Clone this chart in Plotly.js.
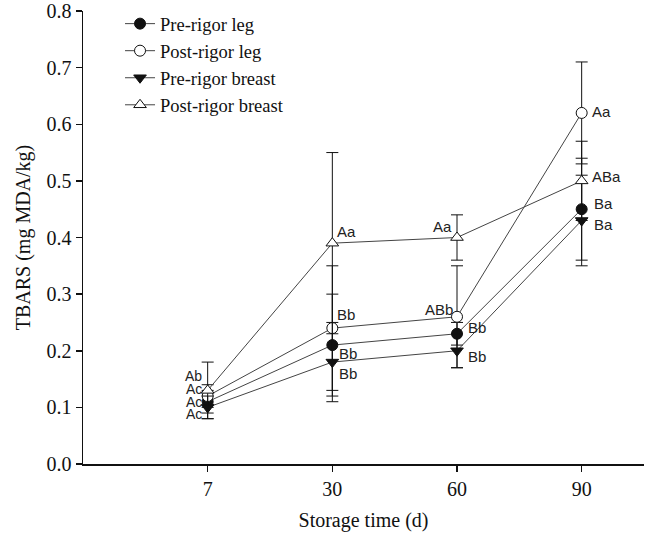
<!DOCTYPE html>
<html>
<head>
<meta charset="utf-8">
<script src="https://cdn.plot.ly/plotly-3.0.1.min.js"></script>
<style>html,body{margin:0;padding:0;background:#fff;}#chart{width:647px;height:536px;}</style>
</head>
<body>
<div id="chart"></div>
<script>
// ---- data ----
const days = ['7', '30', '60', '90'];
const seriesNames = ['Pre-rigor leg', 'Post-rigor leg', 'Pre-rigor breast', 'Post-rigor breast'];
const preLeg = [0.11, 0.21, 0.23, 0.45];
const preLegErr = [0.02, 0.09, 0.02, 0.09];
const postLeg = [0.12, 0.24, 0.26, 0.62];
const postLegErr = [0.02, 0.11, 0.09, 0.09];
const preBreast = [0.10, 0.18, 0.20, 0.43];
const preBreastErr = [0.02, 0.07, 0.03, 0.08];
const postBreast = [0.13, 0.39, 0.40, 0.50];
const postBreastErr = [0.05, 0.16, 0.04, 0.07];
const preLegLab = ['Ac', 'Bb', 'Bb', 'Ba'];
const postLegLab = ['Ac', 'Bb', 'ABb', 'Aa'];
const preBreastLab = ['Ac', 'Bb', 'Bb', 'Ba'];
const postBreastLab = ['Ab', 'Aa', 'Aa', 'ABa'];
const yTicks = [0, 0.1, 0.2, 0.3, 0.4, 0.5, 0.6, 0.7, 0.8];

// ---- styles ----
const lineCol = '#444';
const ink = '#111';
const markerStyles = [
  {symbol: 'circle', size: 11, color: ink, line: {color: ink, width: 1}},
  {symbol: 'circle', size: 11, color: '#fff', line: {color: ink, width: 1}},
  {symbol: 'triangle-down', size: 11, color: ink, line: {color: ink, width: 1}},
  {symbol: 'triangle-up', size: 11, color: '#fff', line: {color: ink, width: 1}}
];
const vals = [preLeg, postLeg, preBreast, postBreast];
const errs = [preLegErr, postLegErr, preBreastErr, postBreastErr];
const labs = [preLegLab, postLegLab, preBreastLab, postBreastLab];

const traces = vals.map((v, i) => ({
  type: 'scatter', mode: 'lines+markers', name: seriesNames[i],
  x: days.map((d, k) => k), y: v,
  line: {color: lineCol, width: 1},
  marker: markerStyles[i],
  error_y: {type: 'data', array: errs[i], visible: true, color: ink, thickness: 1, width: 6}
}));

// label placement offsets (style), per series per time point: [xanchor, xshift, yshift]
const place = [
  [['right', -5, 0], ['left', 6, -8], ['left', 10, 6], ['left', 11, 6]],
  [['right', -5, 7], ['left', 4, 14], ['right', -3, 7], ['left', 9, 1]],
  [['right', -5, -7], ['left', 6, -11], ['left', 10, -6], ['left', 11, -4]],
  [['right', -5, 14], ['left', 4, 12], ['right', -4, 11], ['left', 9, 4]]
];
const annotations = [];
labs.forEach((arr, i) => arr.forEach((t, k) => {
  const p = place[i][k];
  annotations.push({x: k, y: vals[i][k], xref: 'x', yref: 'y', text: t, showarrow: false,
    xanchor: p[0], yanchor: 'middle', xshift: p[1], yshift: p[2], borderpad: 0,
    font: {family: 'Liberation Sans, Arial, sans-serif', size: k === 0 ? 14 : 15, color: '#222'}});
}));

const layout = {
  width: 647, height: 536,
  margin: {l: 83, r: 3, t: 11, b: 72},
  paper_bgcolor: '#fff', plot_bgcolor: '#fff',
  showlegend: true,
  legend: {x: 0.066, y: 1.013, xanchor: 'left', yanchor: 'top', bgcolor: 'rgba(0,0,0,0)',
    font: {family: 'Liberation Serif, Times New Roman, serif', size: 18.5, color: '#111'},
    tracegroupgap: 0},
  xaxis: {
    range: [-1, 3.5], tickmode: 'array', tickvals: [0, 1, 2, 3], ticktext: days,
    showgrid: false, zeroline: false, showline: true, linecolor: ink, linewidth: 1.5,
    ticks: 'outside', ticklen: 6, tickcolor: ink, tickwidth: 1.5,
    tickfont: {family: 'Liberation Serif, Times New Roman, serif', size: 20, color: '#111'},
    title: {text: 'Storage time (d)', standoff: 14,
      font: {family: 'Liberation Serif, Times New Roman, serif', size: 20, color: '#111'}}
  },
  yaxis: {
    range: [0, 0.8], tickmode: 'array', tickvals: yTicks, ticktext: yTicks.map(v => v.toFixed(1)),
    showgrid: false, zeroline: false, showline: true, linecolor: ink, linewidth: 1.5,
    ticks: 'outside', ticklen: 6, tickcolor: ink, tickwidth: 1.5,
    tickfont: {family: 'Liberation Serif, Times New Roman, serif', size: 20, color: '#111'},
    title: {text: 'TBARS (mg MDA/kg)', standoff: 10,
      font: {family: 'Liberation Serif, Times New Roman, serif', size: 20, color: '#111'}}
  },
  annotations: annotations
};

Plotly.newPlot('chart', traces, layout, {displayModeBar: false, staticPlot: true});
</script>
</body>
</html>
